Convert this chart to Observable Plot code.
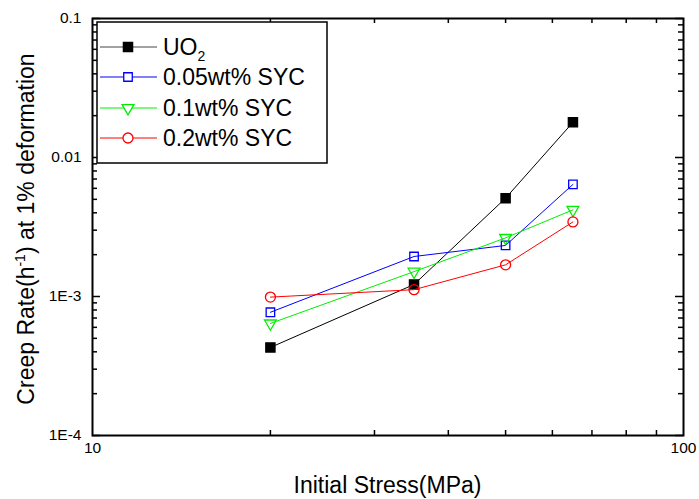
<!DOCTYPE html>
<html><head><meta charset="utf-8">
<script src="https://cdn.jsdelivr.net/npm/d3@7"></script>
<script src="https://cdn.jsdelivr.net/npm/@observablehq/plot@0.6"></script>
<style>
html,body{margin:0;padding:0;background:#fff;}
#wrap{position:relative;width:699px;height:499px;font-family:"Liberation Sans",Arial,sans-serif;}
#wrap svg{position:absolute;left:0;top:0;}
</style></head><body><div id="wrap"></div>
<script>
// ---- data ----
const stress = [20, 35, 50, 65];
const uo2 = [4.3e-4, 1.22e-3, 5.1e-3, 0.0179];
const syc005 = [7.7e-4, 1.94e-3, 2.33e-3, 6.4e-3];
const syc01 = [6.4e-4, 1.51e-3, 2.64e-3, 4.2e-3];
const syc02 = [9.9e-4, 1.12e-3, 1.69e-3, 3.44e-3];
const seriesNames = ["UO2", "0.05wt% SYC", "0.1wt% SYC", "0.2wt% SYC"];
const seriesValues = [uo2, syc005, syc01, syc02];
const seriesColors = ["#000000", "#0000ff", "#00ee00", "#ff0000"];
const xMajor = [10, 100];
const xMajorLabels = ["10", "100"];
const xMinor = [20, 30, 40, 50, 60, 70, 80, 90];
const yMajor = [1e-4, 1e-3, 1e-2, 1e-1];
const yMajorLabels = ["1E-4", "1E-3", "0.01", "0.1"];
const yMinor = [1e-4, 1e-3, 1e-2].flatMap(d => [2,3,4,5,6,7,8,9].map(k => k * d));
const xTitle = "Initial Stress(MPa)";

// ---- layout ----
const W = 699, H = 499, mL = 92, mR = 16, mT = 18, mB = 64;
const iw = W - mL - mR, ih = H - mT - mB;
const font = '"Liberation Sans", Arial, sans-serif';

const rows = seriesNames.flatMap((s, i) => stress.map((x, j) => ({series: s, x, y: seriesValues[i][j]})));
const symbols = ["square", "square", "triangle", "circle"];
const fills = ["#000000", "none", "none", "none"];
const rotates = [0, 0, 180, 0];
const radii = [5.2, 4.8, 4.4, 5.0];

const seriesMarks = seriesNames.flatMap((s, i) => {
  const d = rows.filter(r => r.series === s);
  return [
    Plot.line(d, {x: "x", y: "y", stroke: seriesColors[i], strokeWidth: 1}),
    Plot.dot(d, {x: "x", y: "y", symbol: () => symbols[i], r: radii[i], rotate: rotates[i],
      stroke: seriesColors[i], fill: fills[i] === "none" ? "white" : fills[i], fillOpacity: fills[i] === "none" ? 0 : 1, strokeWidth: 1.3})
  ];
});

const plot = Plot.plot({
  width: W, height: H, marginLeft: mL, marginRight: mR, marginTop: mT, marginBottom: mB,
  x: {type: "log", domain: [10, 100], axis: null},
  y: {type: "log", domain: [1e-4, 0.1], axis: null},
  style: {fontFamily: font, fontSize: "15.5px", color: "black", background: "white"},
  marks: [
    Plot.tickX(xMinor, {x: d => d, insetTop: ih - 5, strokeWidth: 1.5}),
    Plot.tickX(xMinor, {x: d => d, insetBottom: ih - 5, strokeWidth: 1.5}),
    Plot.tickY(yMajor, {y: d => d, insetRight: iw - 8, strokeWidth: 1.5}),
    Plot.tickY(yMinor, {y: d => d, insetRight: iw - 5, strokeWidth: 1.5}),
    Plot.tickY(yMajor, {y: d => d, insetLeft: iw - 8, strokeWidth: 1.5}),
    Plot.tickY(yMinor, {y: d => d, insetLeft: iw - 5, strokeWidth: 1.5}),
    Plot.text(xMajor, {x: d => d, frameAnchor: "bottom", dy: 17, text: (d, i) => xMajorLabels[i],
      fontSize: 15.5, fill: "black", textAnchor: "middle"}),
    Plot.text(yMajor, {y: d => d, frameAnchor: "left", dx: -11, text: (d, i) => yMajorLabels[i],
      fontSize: 15.5, fill: "black", textAnchor: "end"}),
    ...seriesMarks,
    Plot.frame({stroke: "black", strokeWidth: 2})
  ]
});
const wrap = document.getElementById("wrap");
wrap.appendChild(plot);

// ---- overlay: titles + legend ----
const ov = d3.select(wrap).append("svg").attr("width", W).attr("height", H)
  .style("font-family", font).style("pointer-events", "none");

ov.append("text").attr("x", mL + iw / 2).attr("y", 493).attr("text-anchor", "middle")
  .attr("font-size", 23).text(xTitle);

const yt = ov.append("text").attr("transform", "translate(34,229) rotate(-90)")
  .attr("text-anchor", "middle").attr("font-size", 23);
yt.append("tspan").text("Creep Rate(h");
yt.append("tspan").attr("font-size", 14).attr("dy", -9).text("-1");
yt.append("tspan").attr("dy", 9).text(") at 1% deformation");

const lg = ov.append("g");
lg.append("rect").attr("x", 97).attr("y", 22).attr("width", 230).attr("height", 141)
  .attr("fill", "white").attr("stroke", "black").attr("stroke-width", 1.5);
const ly = [47, 77, 108, 138];
const symGen = {square: d3.symbolSquare, triangle: d3.symbolTriangle, circle: d3.symbolCircle};
seriesNames.forEach((s, i) => {
  const g = lg.append("g");
  g.append("line").attr("x1", 100).attr("x2", 157).attr("y1", ly[i]).attr("y2", ly[i])
    .attr("stroke", i === 0 ? "#444" : seriesColors[i]).attr("stroke-width", 1);
  g.append("path").attr("d", d3.symbol(symGen[symbols[i]], Math.PI * radii[i] * radii[i])())
    .attr("transform", `translate(128,${ly[i]}) rotate(${rotates[i]})`)
    .attr("fill", fills[i] === "none" ? "white" : fills[i]).attr("stroke", seriesColors[i]).attr("stroke-width", 1.3);
  const t = g.append("text").attr("x", 163).attr("y", ly[i] + 8).attr("font-size", 23);
  if (s === "UO2") {
    t.append("tspan").text("UO");
    t.append("tspan").attr("font-size", 14).attr("dy", 6).text("2");
  } else {
    t.text(s);
  }
});
</script></body></html>
